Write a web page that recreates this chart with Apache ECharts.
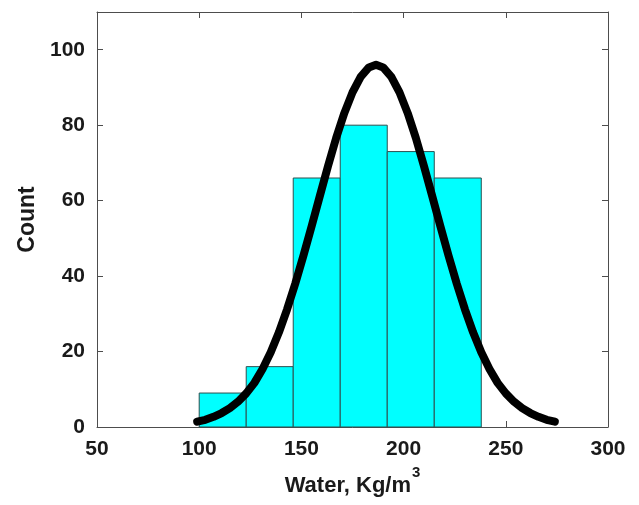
<!DOCTYPE html>
<html>
<head>
<meta charset="utf-8">
<script src="https://cdn.jsdelivr.net/npm/echarts@6/dist/echarts.min.js"></script>
<style>
html,body{margin:0;padding:0;background:#fff;}
#chart{width:639px;height:505px;}
</style>
</head>
<body>
<div id="chart"></div>
<script>
// Histogram bins (Water, Kg/m^3)
var binStart = [100, 123, 146, 169, 192, 215];
var binEnd   = [123, 146, 169, 192, 215, 238];
var counts   = [9, 16, 66, 80, 73, 66];

// Fitted curve points
var curveX = [99, 103, 107, 111, 115, 119, 123, 127, 131, 135, 139, 143, 147, 151, 155, 159, 163, 167, 171, 175, 179, 183, 186.5,
              190, 194, 198, 202, 206, 210, 214, 218, 222, 226, 230, 234, 238, 242, 246, 250, 254, 258, 262, 266, 270, 274];
var curveY = [1.4, 1.9, 2.7, 3.7, 5.0, 6.7, 8.9, 11.7, 15.4, 19.8, 25.1, 31.2, 38.0, 45.4, 53.2, 61.2, 69.1, 76.6, 83.2, 88.7, 92.8, 95.3, 96.0,
              95.3, 92.8, 88.7, 83.2, 76.6, 69.1, 61.2, 53.2, 45.4, 38.0, 31.2, 25.1, 19.8, 15.4, 11.7, 8.9, 6.7, 5.0, 3.7, 2.7, 1.9, 1.4];

var xTicks = [50, 100, 150, 200, 250, 300];
var yTicks = [0, 20, 40, 60, 80, 100];

var barData = binStart.map(function (s, i) { return [s, binEnd[i], counts[i]]; });
var lineData = curveX.map(function (x, i) { return [x, curveY[i]]; });

var FONT = '"Liberation Sans", Arial, sans-serif';
var axisColor = '#4d4d4d';
var textColor = '#1a1a1a';

var chart = echarts.init(document.getElementById('chart'), null, {renderer: 'canvas'});
chart.setOption({
  animation: false,
  backgroundColor: '#ffffff',
  grid: {left: 97, right: 31, top: 12, bottom: 78},
  xAxis: [{
    type: 'value', min: xTicks[0], max: xTicks[xTicks.length - 1], interval: 50,
    position: 'bottom',
    axisLine: {onZero: false, lineStyle: {color: axisColor, width: 1}},
    axisTick: {inside: true, length: 6, lineStyle: {color: axisColor}},
    splitLine: {show: false},
    axisLabel: {color: textColor, fontFamily: FONT, fontWeight: 'bold', fontSize: 21, margin: 12},
    name: '{a|Water, Kg/m}{b|3}',
    nameLocation: 'middle', nameGap: 38,
    nameTextStyle: {
      rich: {
        a: {fontFamily: FONT, fontWeight: 'bold', fontSize: 22, color: textColor, lineHeight: 32, verticalAlign: 'bottom'},
        b: {fontFamily: FONT, fontWeight: 'bold', fontSize: 15, color: textColor, lineHeight: 32, verticalAlign: 'top', padding: [0, 0, 0, 1]}
      }
    }
  }, {
    type: 'value', min: xTicks[0], max: xTicks[xTicks.length - 1], interval: 50,
    position: 'top',
    axisLine: {onZero: false, lineStyle: {color: axisColor, width: 1}},
    axisTick: {inside: true, length: 6, lineStyle: {color: axisColor}},
    splitLine: {show: false},
    axisLabel: {show: false}
  }],
  yAxis: [{
    type: 'value', min: 0, max: 110, interval: 20,
    position: 'left',
    axisLine: {show: true, onZero: false, lineStyle: {color: axisColor, width: 1}},
    axisTick: {show: true, inside: true, length: 6, lineStyle: {color: axisColor}},
    splitLine: {show: false},
    axisLabel: {color: textColor, fontFamily: FONT, fontWeight: 'bold', fontSize: 21, margin: 12, showMaxLabel: false,
      formatter: function (v) { return yTicks.indexOf(v) >= 0 ? String(v) : ''; }},
    name: 'Count', nameLocation: 'middle', nameGap: 55, nameRotate: 90,
    nameTextStyle: {fontFamily: FONT, fontWeight: 'bold', fontSize: 23, color: textColor}
  }, {
    type: 'value', min: 0, max: 110, interval: 20,
    position: 'right',
    axisLine: {show: true, onZero: false, lineStyle: {color: axisColor, width: 1}},
    axisTick: {show: true, inside: true, length: 6, lineStyle: {color: axisColor}},
    splitLine: {show: false},
    axisLabel: {show: false}
  }],
  series: [{
    type: 'custom',
    xAxisIndex: 0, yAxisIndex: 0,
    data: barData,
    encode: {x: [0, 1], y: 2},
    z: 2,
    renderItem: function (params, api) {
      var p0 = api.coord([api.value(0), 0]);
      var p1 = api.coord([api.value(1), api.value(2)]);
      return {
        type: 'rect',
        shape: {x: p0[0], y: p1[1], width: p1[0] - p0[0], height: p0[1] - p1[1]},
        style: {fill: '#00ffff', stroke: '#2e4f4f', lineWidth: 1}
      };
    }
  }, {
    type: 'line',
    xAxisIndex: 0, yAxisIndex: 0,
    data: lineData,
    smooth: false,
    showSymbol: false,
    symbol: 'none',
    z: 5,
    lineStyle: {color: '#000000', width: 8, cap: 'round', join: 'round'}
  }]
});
</script>
</body>
</html>
